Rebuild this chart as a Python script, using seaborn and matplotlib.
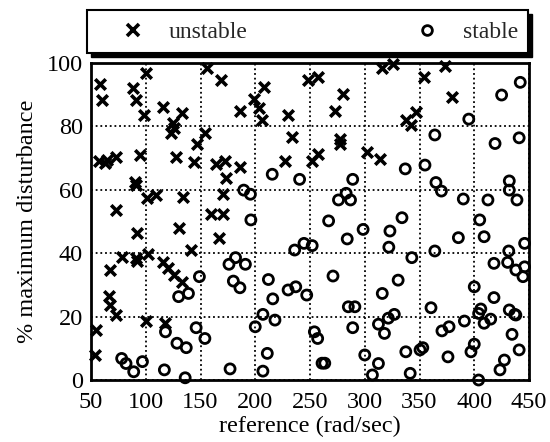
import matplotlib
matplotlib.use("Agg")
import matplotlib.pyplot as plt
import matplotlib.patches as mpatches
from matplotlib.lines import Line2D
import seaborn as sns
import pandas as pd

# ---- data ----
unstable_ref = [58, 60, 100, 88, 91, 98, 116, 133, 125, 123, 126, 154, 147, 156, 57, 63, 65, 73, 95, 128,
                144, 90, 91, 101, 109, 134, 73, 160, 171, 92, 130, 78, 91, 92, 102, 141, 67, 116, 120, 126,
                133, 66, 67, 73, 100, 118, 55, 54, 169, 208, 199, 203, 206, 186, 230, 248, 257, 280, 273, 234,
                277, 277, 164, 172, 186, 173, 227, 252, 257, 171, 167, 316, 326, 354, 373, 380, 347, 338, 342, 302,
                314]
unstable_dist = [93.3, 88.3, 96.7, 92, 88.3, 83.6, 86.2, 84.1, 81, 77.8, 79.5, 77.8, 74.3, 98.5, 69.1, 68.6, 69.5, 70.5, 71, 70.4,
                 68.9, 62.6, 61.5, 57.3, 58.4, 57.8, 53.6, 52.3, 52.5, 46.3, 48, 38.9, 38.6, 37.5, 39.6, 41, 34.7, 37.3, 35.4, 33.1,
                 31, 26.6, 23.7, 20.5, 18.6, 17.9, 15.8, 7.9, 94.6, 92.5, 88.8, 85.7, 82, 84.9, 83.6, 94.6, 95.7, 90.1, 84.9, 76.8,
                 76, 74.5, 68, 69.1, 67.3, 63.6, 69.1, 69.1, 71.2, 58.6, 44.7, 98.3, 99.6, 95.7, 99.2, 89.4, 84.6, 82, 80.4, 72,
                 69.7]

stable_ref = [149, 130, 139, 118, 146, 154, 128.5, 137, 78, 82, 89, 97, 117, 136,
              215.5, 240.5, 289, 189.5, 195.6, 283, 276, 287, 196, 267,
              284, 236, 244.5, 252, 182, 176, 191, 180, 186, 212, 271, 230, 237, 216, 247, 285, 291, 207, 200, 218,
              254, 257, 289, 211, 177, 207, 261, 263.5,
              442, 425, 395, 364, 419, 441, 337, 355, 365, 370, 390, 412.5, 432, 432, 439, 334, 405,
              298.5, 323, 322, 385.5, 409, 446, 343, 364, 418, 431.5, 430.5, 438, 446, 444.5, 330.5, 316, 400, 418,
              360.5, 327, 321.5, 312.5, 318, 391, 370.5, 377, 406, 404, 409, 415, 432, 437, 438, 434.5, 441, 427.5,
              423.5, 400, 397, 353, 350.5, 337.5, 376, 300, 312.5, 307, 341.5, 404]
stable_dist = [32.6, 26.3, 27.3, 15.2, 16.5, 13.1, 11.6, 10.2, 6.8, 5.2, 2.6, 5.8, 3.2, 0.7,
               64.9, 63.3, 63.3, 59.9, 58.6, 58.9, 56.8, 56.8, 50.5, 50.2,
               44.5, 41, 43.1, 42.4, 38.6, 36.5, 36.5, 31.2, 29.1, 31.7, 32.8, 28.4, 29.4, 25.6, 26.8, 23.1, 23.1, 20.7, 16.8, 18.9,
               15.2, 13.1, 16.5, 8.4, 3.5, 2.8, 5.3, 5.3,
               93.9, 89.9, 82.3, 77.3, 74.6, 76.4, 66.6, 67.8, 62.3, 59.6, 57.1, 56.8, 62.8, 59.9, 56.8, 51.2, 50.5,
               47.5, 47, 41.9, 44.9, 45.2, 43.1, 38.6, 40.7, 36.8, 40.7, 37.1, 34.7, 35.7, 32.6, 31.5, 27.3, 29.4, 26,
               22.8, 20.7, 19.5, 17.6, 14.7, 18.6, 15.5, 16.8, 22.4, 21, 17.9, 19.2, 22.1, 20.7, 20.5, 14.4, 9.5, 6.3,
               3.2, 11.3, 8.9, 10.2, 9.5, 8.9, 7.3, 7.9, 5.2, 1.6, 2.1, 0]

x_ticks = [50, 100, 150, 200, 250, 300, 350, 400, 450]
y_ticks = [0, 20, 40, 60, 80, 100]
labels = ["unstable", "stable"]

df_u = pd.DataFrame({"reference": unstable_ref, "disturbance": unstable_dist})
df_s = pd.DataFrame({"reference": stable_ref, "disturbance": stable_dist})

sns.set_theme(style="white")
plt.rcParams["font.family"] = ["Liberation Serif", "DejaVu Serif"]

fig = plt.figure(figsize=(5.5, 4.42), dpi=100)
ax = fig.add_axes([91 / 550, 62 / 442, 438 / 550, 317 / 442])

sns.scatterplot(data=df_u, x="reference", y="disturbance", marker="x", s=58,
                color="black", linewidth=2.6, ax=ax, clip_on=False, zorder=3)
sns.scatterplot(data=df_s, x="reference", y="disturbance", marker="o", s=52,
                facecolor="none", edgecolor="black", linewidth=2.0, ax=ax, clip_on=False, zorder=3)

ax.set_xlim(50, 450)
ax.set_ylim(0, 100)
ax.set_xticks(x_ticks)
ax.set_yticks(y_ticks)
ax.tick_params(length=0, labelsize=17.5, colors="black")
ax.tick_params(axis="x", pad=9)
ax.tick_params(axis="y", pad=6)
ax.set_xlabel("reference (rad/sec)", fontsize=17.5, color="black", labelpad=2)
ax.set_ylabel("% maximum disturbance", fontsize=17.5, color="black", labelpad=6)
ax.grid(True, color="black", linestyle=(0, (1, 1.6)), linewidth=1.3)
for sp in ax.spines.values():
    sp.set_visible(True)
    sp.set_color("black")
    sp.set_linewidth(2)

# legend box with a dark drop shadow
bx, by, bw, bh = 87 / 550, (442 - 53) / 442, 441 / 550, 43 / 442
shadow = mpatches.Rectangle((bx + 4 / 550, by - 4 / 442), bw, bh, transform=fig.transFigure,
                            facecolor="black", edgecolor="black", zorder=1)
box = mpatches.Rectangle((bx, by), bw, bh, transform=fig.transFigure,
                         facecolor="white", edgecolor="black", linewidth=1.5, zorder=2)
fig.add_artist(shadow)
fig.add_artist(box)

handles = [Line2D([], [], marker="x", linestyle="none", color="black", markersize=8, markeredgewidth=2.6),
           Line2D([], [], marker="o", linestyle="none", markerfacecolor="none", markeredgecolor="black",
                  markersize=7, markeredgewidth=2.0)]
leg = fig.legend(handles, labels, loc="center", bbox_to_anchor=(121 / 550, 0.90, 397 / 550, 0.055),
                 mode="expand", ncol=2, frameon=False, fontsize=17, handlelength=1.0,
                 handletextpad=1.0, borderpad=0, borderaxespad=0)
leg.set_zorder(5)

fig.savefig("out.png", dpi=100, facecolor="white")
